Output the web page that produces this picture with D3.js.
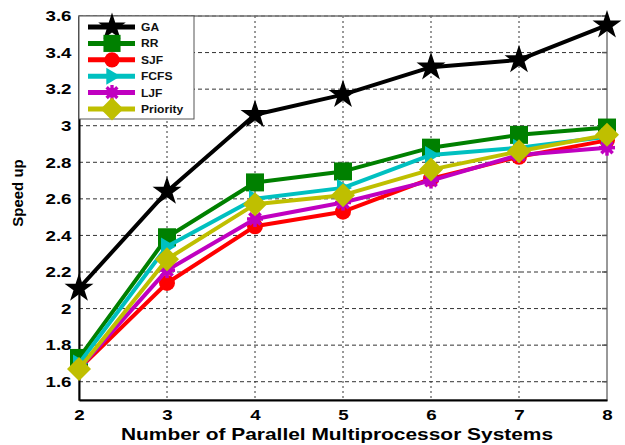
<!DOCTYPE html>
<html>
<head>
<meta charset="utf-8">
<script src="https://cdn.jsdelivr.net/npm/d3@7"></script>
<style>
  body { margin: 0; background: #fff; }
  text { font-family: Arial, "Liberation Sans", sans-serif; font-weight: bold; }
</style>
</head>
<body>
<script>
// data
var processors = [2, 3, 4, 5, 6, 7, 8];
var yTicks = [1.6, 1.8, 2, 2.2, 2.4, 2.6, 2.8, 3, 3.2, 3.4, 3.6];
var gaValues = [2.11, 2.64, 3.06, 3.17, 3.32, 3.36, 3.55];
var rrValues = [1.73, 2.39, 2.69, 2.75, 2.88, 2.95, 2.99];
var sjfValues = [1.67, 2.14, 2.45, 2.53, 2.71, 2.83, 2.92];
var fcfsValues = [1.70, 2.34, 2.60, 2.66, 2.84, 2.88, 2.94];
var ljfValues = [1.67, 2.21, 2.49, 2.58, 2.70, 2.84, 2.88];
var priorityValues = [1.67, 2.27, 2.57, 2.62, 2.76, 2.86, 2.95];

var series = [
  { name: 'GA', values: gaValues, color: '#000000', marker: 'star' },
  { name: 'RR', values: rrValues, color: '#008000', marker: 'square' },
  { name: 'SJF', values: sjfValues, color: '#ff0000', marker: 'circle' },
  { name: 'FCFS', values: fcfsValues, color: '#00c0c0', marker: 'triangle' },
  { name: 'LJF', values: ljfValues, color: '#c000c0', marker: 'asterisk' },
  { name: 'Priority', values: priorityValues, color: '#bfbf00', marker: 'diamond' }
];

var margin = { top: 16, right: 18, bottom: 45, left: 79 };
var width = 625 - margin.left - margin.right,
    height = 445 - margin.top - margin.bottom;

var svg = d3.select('body').append('svg').attr('width', 625).attr('height', 445)
  .append('g').attr('transform', 'translate(' + margin.left + ',' + margin.top + ')');

var x = d3.scaleLinear().domain([2, 8]).range([0, width]);
var y = d3.scaleLinear().domain([1.5, 3.6]).range([height, 0]);

// grid
svg.append('g').selectAll('line').data(yTicks).enter().append('line')
  .attr('x1', 0).attr('x2', width)
  .attr('y1', function (d) { return y(d); }).attr('y2', function (d) { return y(d); })
  .attr('stroke', '#333').attr('stroke-width', 1).attr('stroke-dasharray', '4,3');
svg.append('g').selectAll('line').data(processors.slice(1, -1)).enter().append('line')
  .attr('y1', 0).attr('y2', height)
  .attr('x1', function (d) { return x(d); }).attr('x2', function (d) { return x(d); })
  .attr('stroke', '#333').attr('stroke-width', 1).attr('stroke-dasharray', '2,3');

// box
svg.append('rect').attr('x', 0).attr('y', 0).attr('width', width).attr('height', height)
  .attr('fill', 'none').attr('stroke', '#777').attr('stroke-width', 1.5);

// axes
var xAxis = svg.append('g').attr('transform', 'translate(0,' + height + ')')
  .call(d3.axisBottom(x).tickValues(processors).tickSize(0).tickPadding(9).tickFormat(d3.format('d')));
var yAxis = svg.append('g')
  .call(d3.axisLeft(y).tickValues(yTicks).tickSize(0).tickPadding(6).tickFormat(function (d) { return String(d); }));
[xAxis, yAxis].forEach(function (a) {
  a.select('.domain').attr('stroke', '#000').attr('stroke-width', 2);
  a.selectAll('text').attr('font-size', 15).attr('fill', '#000')
    .attr('transform', 'scale(1.25,1)')
    .style('font-family', 'Arial, "Liberation Sans", sans-serif').style('font-weight', 'bold');
});
// right-side inner ticks
svg.append('g').selectAll('line').data(yTicks).enter().append('line')
  .attr('x1', width - 5).attr('x2', width)
  .attr('y1', function (d) { return y(d); }).attr('y2', function (d) { return y(d); })
  .attr('stroke', '#555').attr('stroke-width', 1.5);

// markers
function drawMarker(g, type, color, cx, cy, k) {
  var t = 'translate(' + cx + ',' + cy + ') scale(' + k + ')';
  if (type === 'asterisk') {
    var r = 8;
    for (var j = 0; j < 4; j++) {
      var a = j * Math.PI / 4;
      g.append('line').attr('x1', -r * Math.cos(a)).attr('y1', -r * Math.sin(a))
        .attr('x2', r * Math.cos(a)).attr('y2', r * Math.sin(a))
        .attr('transform', t).attr('stroke', color).attr('stroke-width', 3.5);
    }
    g.append('circle').attr('r', 5).attr('transform', t).attr('fill', color);
    return;
  }
  var p;
  if (type === 'star') p = d3.symbol().type(d3.symbolStar).size(260)();
  else if (type === 'square') p = 'M-9,-9H9V9H-9Z';
  else if (type === 'circle') p = d3.symbol().type(d3.symbolCircle).size(200)();
  else if (type === 'diamond') p = 'M0,-12L12,0L0,12L-12,0Z';
  else if (type === 'triangle') p = 'M-6,-9L9,0L-6,9Z';
  g.append('path').attr('d', p).attr('transform', t).attr('fill', color);
}

var line = d3.line().x(function (d, i) { return x(processors[i]); }).y(function (d) { return y(d); });

series.forEach(function (s) {
  var g = svg.append('g');
  g.append('path').datum(s.values).attr('d', line)
    .attr('fill', 'none').attr('stroke', s.color).attr('stroke-width', 4).attr('stroke-linejoin', 'round');
  s.values.forEach(function (v, i) {
    drawMarker(g, s.marker, s.color, x(processors[i]), y(v), 1);
  });
});

// legend
var legend = svg.append('g');
legend.append('rect').attr('x', 0).attr('y', 0).attr('width', 115).attr('height', 103)
  .attr('fill', '#fff').attr('stroke', '#555').attr('stroke-width', 1);
series.forEach(function (s, i) {
  var ly = 11 + i * 16.4;
  legend.append('line').attr('x1', 9).attr('x2', 56).attr('y1', ly).attr('y2', ly)
    .attr('stroke', s.color).attr('stroke-width', 5);
  drawMarker(legend, s.marker, s.color, 33, ly, 0.95);
  legend.append('text').attr('transform', 'translate(62,' + (ly + 4) + ') scale(1.15,1)')
    .attr('font-size', 10.5).attr('fill', '#111').text(s.name);
});

// labels
svg.append('text').attr('transform', 'translate(-56,' + (height / 2 - 15) + ') rotate(-90)')
  .attr('text-anchor', 'middle').attr('font-size', 15).text('Speed up');
svg.append('text').attr('transform', 'translate(' + (width / 2 - 6) + ',' + (height + 40) + ') scale(1.23,1)')
  .attr('text-anchor', 'middle').attr('font-size', 17).text('Number of Parallel Multiprocessor Systems');
</script>
</body>
</html>
